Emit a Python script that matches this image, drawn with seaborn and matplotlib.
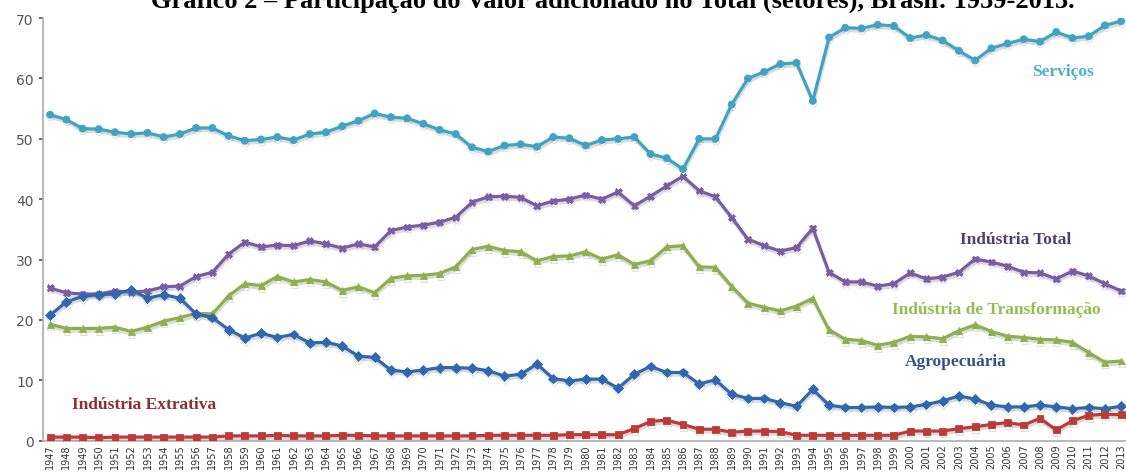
import numpy as np
import pandas as pd
import matplotlib
matplotlib.use("Agg")
import matplotlib.pyplot as plt
import matplotlib.patheffects as pe
import seaborn as sns

anos = list(range(1947, 2014))

servicos = [54.0, 53.2, 51.7, 51.6, 51.1, 50.8, 51.0, 50.3, 50.8, 51.8, 51.8, 50.5, 49.7, 49.9, 50.3,
            49.8, 50.8, 51.1, 52.1, 53.0, 54.2, 53.6, 53.4, 52.5, 51.5, 50.8, 48.6, 47.9, 48.9, 49.1,
            48.7, 50.3, 50.1, 48.9, 49.8, 50.0, 50.3, 47.5, 46.8, 45.0, 50.0, 50.0, 55.7, 60.0, 61.1,
            62.4, 62.6, 56.3, 66.8, 68.4, 68.3, 68.9, 68.7, 66.7, 67.2, 66.3, 64.6, 63.0, 65.0, 65.8,
            66.5, 66.1, 67.7, 66.7, 67.0, 68.8, 69.5]

industria_total = [25.3, 24.5, 24.3, 24.3, 24.8, 24.6, 24.8, 25.5, 25.6, 27.2, 27.9, 30.9, 32.9, 32.1,
                   32.4, 32.3, 33.1, 32.6, 31.9, 32.6, 32.1, 34.8, 35.4, 35.7, 36.2, 37.0, 39.5, 40.4,
                   40.5, 40.3, 38.9, 39.7, 40.0, 40.7, 40.0, 41.2, 38.9, 40.5, 42.2, 43.8, 41.4, 40.4,
                   37.0, 33.4, 32.3, 31.4, 32.0, 35.2, 27.9, 26.3, 26.3, 25.6, 26.0, 27.8, 26.8, 27.1,
                   27.9, 30.1, 29.6, 28.9, 27.9, 27.8, 26.8, 28.1, 27.3, 26.0, 24.8]

transformacao = [19.3, 18.6, 18.6, 18.6, 18.8, 18.1, 18.8, 19.8, 20.4, 21.1, 21.0, 24.0, 26.0, 25.7,
                 27.2, 26.3, 26.7, 26.3, 24.9, 25.5, 24.5, 26.9, 27.3, 27.4, 27.7, 28.8, 31.7, 32.2,
                 31.5, 31.3, 29.8, 30.5, 30.6, 31.3, 30.1, 30.8, 29.2, 29.8, 32.1, 32.3, 28.8, 28.7,
                 25.6, 22.8, 22.1, 21.5, 22.3, 23.6, 18.4, 16.8, 16.6, 15.8, 16.3, 17.3, 17.2, 16.9,
                 18.2, 19.2, 18.1, 17.3, 17.1, 16.8, 16.7, 16.3, 14.6, 13.0, 13.2]

agropecuaria = [20.8, 23.0, 23.9, 24.2, 24.3, 25.0, 23.6, 24.2, 23.6, 21.0, 20.4, 18.4, 17.0, 17.8,
                17.1, 17.6, 16.2, 16.3, 15.7, 14.0, 13.8, 11.7, 11.4, 11.7, 12.1, 12.1, 12.0, 11.6,
                10.7, 11.0, 12.7, 10.3, 9.9, 10.2, 10.2, 8.7, 11.0, 12.3, 11.3, 11.3, 9.4, 10.1,
                7.7, 7.0, 7.0, 6.3, 5.7, 8.5, 5.9, 5.5, 5.5, 5.6, 5.5, 5.6, 6.0, 6.6, 7.4, 6.9,
                5.9, 5.6, 5.6, 5.9, 5.6, 5.3, 5.5, 5.3, 5.7]

extrativa = [0.6, 0.6, 0.6, 0.5, 0.6, 0.6, 0.6, 0.6, 0.6, 0.6, 0.6,
             0.8, 0.8, 0.8, 0.9, 0.8, 0.8, 0.8, 0.9, 0.9, 0.8, 0.8,
             0.8, 0.8, 0.8, 0.8, 0.8, 0.9, 0.9, 0.9, 0.9, 0.9, 1.0, 1.0, 1.0, 1.0,
             2.0, 3.2, 3.4, 2.7, 1.9, 1.9, 1.4, 1.6, 1.6, 1.5, 0.9, 0.9, 0.9, 0.9, 0.9, 0.9, 0.9,
             1.6, 1.6, 1.6, 2.0, 2.3, 2.7, 3.0, 2.6, 3.7, 1.8, 3.3, 4.2, 4.4, 4.3]

setores = ["Serviços", "Indústria Total", "Indústria de Transformação", "Agropecuária", "Indústria Extrativa"]
series = [servicos, industria_total, transformacao, agropecuaria, extrativa]

cores_linha = {"Serviços": "#3FA3C4", "Indústria Total": "#7A5CA6",
               "Indústria de Transformação": "#8DB04E", "Agropecuária": "#2F68AE",
               "Indústria Extrativa": "#BE3A38"}
cores_texto = {"Serviços": "#4BB0CF", "Indústria Total": "#4E3F78",
               "Indústria de Transformação": "#93BD4E", "Agropecuária": "#33528F",
               "Indústria Extrativa": "#8E2F30"}
marcadores = {"Serviços": "o", "Indústria Total": "X",
              "Indústria de Transformação": "^", "Agropecuária": "D",
              "Indústria Extrativa": "s"}

df = pd.DataFrame({
    "ano": np.tile(anos, len(setores)),
    "valor": np.concatenate(series),
    "setor": np.repeat(setores, len(anos)),
})

sns.set_theme(style="white")
fig = plt.figure(figsize=(11.26, 4.77), dpi=100)
ax = fig.add_axes([0.038, 0.074, 0.962, 0.886])

sns.lineplot(data=df, x="ano", y="valor", hue="setor", style="setor",
             hue_order=setores, style_order=setores, palette=cores_linha,
             markers=marcadores, dashes=False, markersize=5, linewidth=2.3,
             markeredgewidth=0.6, ax=ax, legend=False, zorder=3)

for ln in ax.lines:
    ln.set_markeredgecolor(ln.get_color())
    ln.set_path_effects([pe.SimpleLineShadow(offset=(0.5, -2), shadow_color="#888888", alpha=0.3),
                         pe.Normal()])

ax.set_xlim(1946.55, 2013.3)
ax.set_ylim(0, 70)
ax.set_yticks(range(0, 71, 10))
ax.set_xticks(anos)
ax.set_xticklabels([str(a) for a in anos], rotation=90, fontsize=7, color="#333333")
ax.tick_params(axis="y", labelsize=10, colors="#555555", length=3, direction="out", left=True)
ax.tick_params(axis="x", length=0, pad=2)
ax.set_xlabel("")
ax.set_ylabel("")
for s in ["top", "right"]:
    ax.spines[s].set_visible(False)
ax.spines["left"].set_color("#b0b0b0")
ax.spines["bottom"].set_color("#b0b0b0")
ax.grid(False)

rotulos = [("Serviços", 2009.4, 61.3), ("Indústria Total", 2006.5, 33.4),
           ("Indústria de Transformação", 2005.3, 21.8), ("Agropecuária", 2002.8, 13.2),
           ("Indústria Extrativa", 1952.8, 6.0)]
for nome, xa, ya in rotulos:
    ax.text(xa, ya, nome, color=cores_texto[nome], fontsize=12.5, fontweight="bold",
            family="Liberation Serif", ha="center", va="center")

fig.text(0.544, 0.984, "Gráfico 2 – Participação do Valor adicionado no Total (setores), Brasil: 1939-2013.",
         ha="center", va="baseline", fontsize=19, fontweight="bold", family="Liberation Serif",
         color="black")

fig.savefig("out.png", dpi=100)
